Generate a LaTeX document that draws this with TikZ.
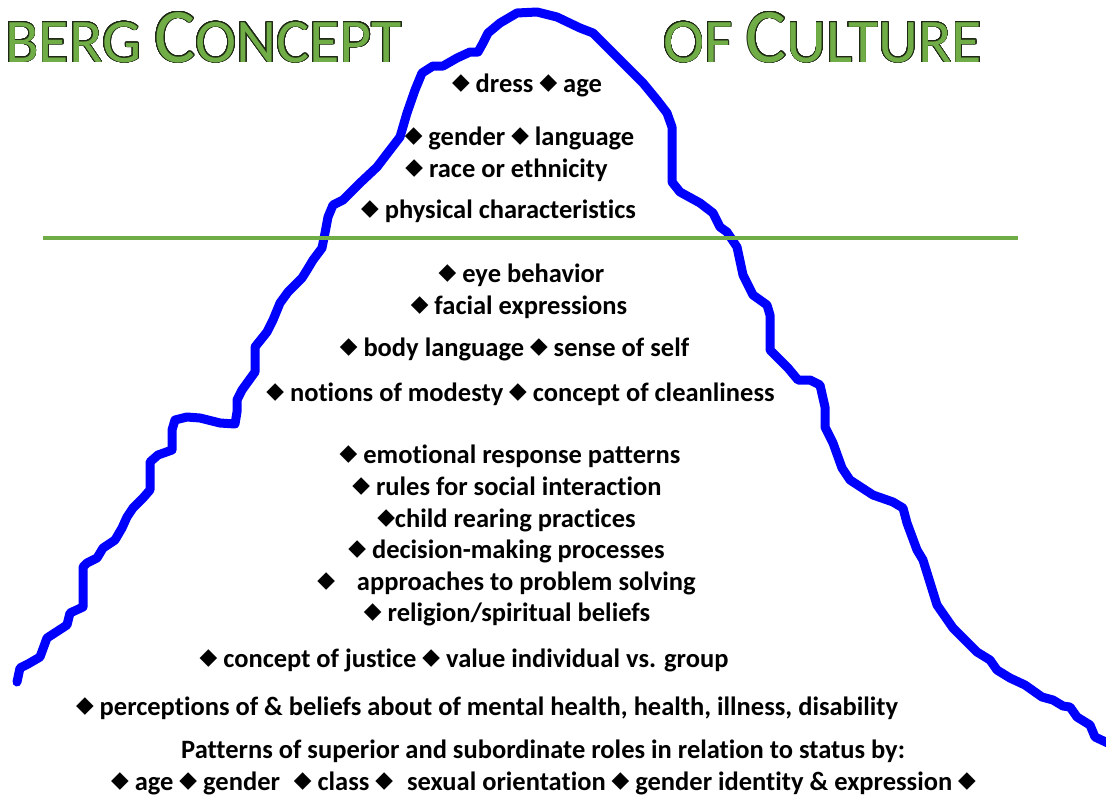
\documentclass[tikz,border=0pt]{standalone}
\usepackage{fontspec}
\setmainfont[Ligatures=NoCommon]{Carlito}
\newfontfamily\dejavu{DejaVu Sans}
\usepackage{contour}
\contourlength{0.75pt}
\contournumber{32}
\definecolor{tgreen}{RGB}{112,173,71}
\definecolor{tdark}{RGB}{30,40,20}
\definecolor{tblue}{RGB}{0,0,255}
\newcommand{\dm}{\raisebox{3pt}{\dejavu\fontsize{23}{23}\selectfont ◆}}
\newcommand{\bigt}[1]{\contour{tdark}{\fontsize{77}{77}\selectfont #1}}
\newcommand{\smt}[1]{\contour{tdark}{\fontsize{62}{62}\selectfont #1}}
\begin{document}
\begin{tikzpicture}[x=1pt,y=-1pt,
  item/.style={font=\bfseries\fontsize{26.5}{26.5}\selectfont, inner sep=0pt, anchor=base},
  ttl/.style={inner sep=0pt, anchor=base west, text=tgreen},
  berg/.style={draw=tblue, line width=9pt, line join=round, line cap=round},
  water/.style={draw=tgreen, line width=4pt}]
\useasboundingbox (0,0) rectangle (1106,796);

\draw[berg] (17,682) -- (20,668) -- (28,664) -- (40,657) -- (47,638) -- (67,625) -- (70,613) -- (83,607) -- (83,567) -- (87,563) -- (97,558) -- (103,548) -- (115,540) -- (122,528) -- (127,517) -- (133,508) -- (143,498) -- (150,490) -- (150,462) -- (158,455) -- (172,450) -- (172,430) -- (175,420) -- (187,417) -- (200,418) -- (220,423) -- (235,424) -- (237,412) -- (237,400) -- (242,390) -- (255,372) -- (255,347) -- (267,332) -- (273,320) -- (280,303) -- (288,292) -- (302,278) -- (307,270) -- (313,260) -- (322,248) -- (325,233) -- (328,217) -- (333,205) -- (343,200) -- (360,183) -- (377,167) -- (390,150) -- (400,137) -- (407,113) -- (415,90) -- (422,73) -- (433,66) -- (443,66) -- (457,58) -- (470,52) -- (478,52) -- (483,43) -- (488,33) -- (500,23) -- (517,13) -- (537,12) -- (557,17) -- (580,28) -- (593,33) -- (607,47) -- (625,65) -- (643,83) -- (657,100) -- (667,113) -- (672,127) -- (672,182) -- (680,192) -- (700,203) -- (713,213) -- (720,227) -- (727,232) -- (737,247) -- (743,275) -- (753,295) -- (767,305) -- (770,315) -- (770,350) -- (788,368) -- (798,380) -- (810,380) -- (820,385) -- (825,407) -- (825,427) -- (833,443) -- (842,468) -- (850,480) -- (873,495) -- (893,502) -- (903,508) -- (907,523) -- (917,550) -- (923,560) -- (937,605) -- (953,628) -- (977,652) -- (990,660) -- (997,670) -- (1010,678) -- (1025,685) -- (1042,697) -- (1053,700) -- (1063,706) -- (1070,707) -- (1077,717) -- (1090,725) -- (1095,737) -- (1110,744);

\coordinate (wl) at (43,238);
\coordinate (wr) at (1018,238);
\draw[water] (wl) -- (wr);

\node[ttl] (t1) at (5,62) {\smt{BERG}\hspace{13pt}\bigt{C}\smt{ONCEPT}};
\node[ttl] (t2) at (663,62) {\smt{OF}\hspace{13pt}\bigt{C}\smt{ULTURE}};

\node[item] (n1) at (527,92) {\dm{} dress \dm{} age};
\node[item] (n2) at (519.5,145) {\dm{} gender \dm{} language};
\node[item] (n3) at (506.5,177) {\dm{} race or ethnicity};
\node[item] (n4) at (498.5,218) {\dm{} physical characteristics};
\node[item] (n5) at (521.5,282) {\dm{} eye behavior};
\node[item] (n6) at (519,314) {\dm{} facial expressions};
\node[item] (n7) at (514.5,356) {\dm{} body language \dm{} sense of self};
\node[item] (n8) at (520.5,401) {\dm{} notions of modesty \dm{} concept of cleanliness};
\node[item] (n9) at (510,463) {\dm{} emotional response patterns};
\node[item] (n10) at (507,495) {\dm{} rules for social interaction};
\node[item] (n11) at (506.5,527) {\dm{}child rearing practices};
\node[item] (n12) at (506.5,558) {\dm{} decision-making processes};
\node[item] (n13) at (506.5,590) {\dm{}\hspace{0.6em} approaches to problem solving};
\node[item] (n14) at (507,621) {\dm{} religion/spiritual beliefs};
\node[item] (n15) at (464,667) {\dm{} concept of justice \dm{} value individual vs. group};
\node[item] (n16) at (487,715) {\dm{} perceptions of \& beliefs about of mental health, health, illness, disability};
\node[item] (n17) at (543,758) {Patterns of superior and subordinate roles in relation to status by:};
\node[item] (n18) at (543.5,790) {\dm{} age \dm{} gender\hspace{0.3em} \dm{} class \dm{}\hspace{0.3em} sexual orientation \dm{} gender identity \& expression \dm};
\end{tikzpicture}
\end{document}
